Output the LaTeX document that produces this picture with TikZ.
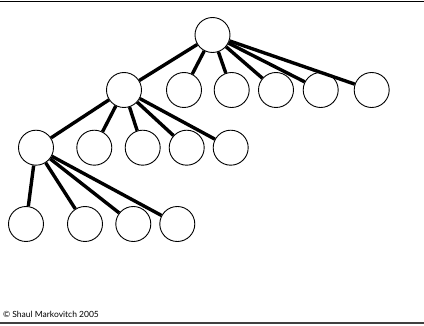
\documentclass[tikz,border=0pt]{standalone}
\usepackage{fontspec}
\setmainfont{Lato}
\begin{document}
\begin{tikzpicture}[
  x=1pt, y=-1pt,
  state/.style={draw, circle, line width=0.9pt, minimum size=35pt, inner sep=0pt},
  branch/.style={line width=3.4pt}
]
\useasboundingbox (0,0) rectangle (424,326);
\draw[line width=1.4pt] (0,1.5) -- (424,1.5);
\draw[line width=2pt, black!75] (0,323.5) -- (424,323.5);
% root
\node[state] (r) at (212.5,35) {};
% first level
\node[state] (a) at (124,90) {};
\node[state] (a2) at (184,90) {};
\node[state] (a3) at (231.7,90) {};
\node[state] (a4) at (276,90) {};
\node[state] (a5) at (320.7,90) {};
\node[state] (a6) at (371.7,90) {};
% second level
\node[state] (b) at (36,147.7) {};
\node[state] (b2) at (94.3,147.7) {};
\node[state] (b3) at (142.7,147.7) {};
\node[state] (b4) at (186.7,147.7) {};
\node[state] (b5) at (230.7,147.7) {};
% third level
\node[state] (c1) at (26,224) {};
\node[state] (c2) at (85,224) {};
\node[state] (c3) at (133.3,224) {};
\node[state] (c4) at (177.3,224) {};
\draw[branch] (r) -- (a);
\draw[branch] (r) -- (a2);
\draw[branch] (r) -- (a3);
\draw[branch] (r) -- (a4);
\draw[branch] (r) -- (a5);
\draw[branch] (r) -- (a6);
\draw[branch] (a) -- (b);
\draw[branch] (a) -- (b2);
\draw[branch] (a) -- (b3);
\draw[branch] (a) -- (b4);
\draw[branch] (a) -- (b5);
\draw[branch] (b) -- (c1);
\draw[branch] (b) -- (c2);
\draw[branch] (b) -- (c3);
\draw[branch] (b) -- (c4);
\node[anchor=base west, inner sep=0pt, font=\fontsize{8.5}{9}\selectfont] (copy) at (3,318) {© Shaul Markovitch 2005};
\end{tikzpicture}
\end{document}
